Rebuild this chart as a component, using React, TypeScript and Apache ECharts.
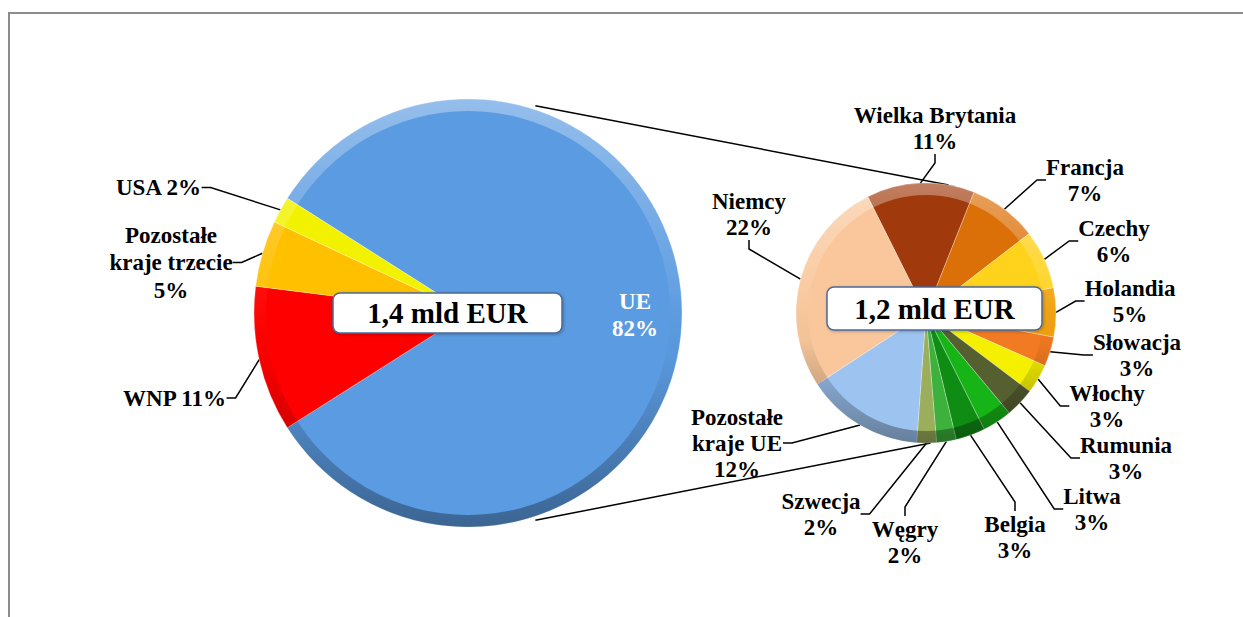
import React, { useEffect, useRef } from "react";
import * as echarts from "echarts";

// ---------- data ----------
const LEFT_NAMES = ["UE", "WNP", "Pozostałe kraje trzecie", "USA"];
const LEFT_VALUES = [82, 11, 5, 2];
const LEFT_LABELS = ["UE\n82%", "WNP 11%", "Pozostałe\nkraje trzecie\n5%", "USA 2%"];
const LEFT_COLORS = ["#5B9BE1", "#FF0000", "#FFC000", "#F2F200"];

const RIGHT_NAMES = [
  "Wielka Brytania", "Francja", "Czechy", "Holandia", "Słowacja", "Włochy",
  "Rumunia", "Litwa", "Belgia", "Węgry", "Szwecja", "Pozostałe kraje UE", "Niemcy",
];
const RIGHT_VALUES = [11, 7, 6, 5, 3, 3, 3, 3, 3, 2, 2, 12, 22];
const RIGHT_LABELS = [
  "Wielka Brytania\n11%", "Francja\n7%", "Czechy\n6%", "Holandia\n5%", "Słowacja\n3%",
  "Włochy\n3%", "Rumunia\n3%", "Litwa\n3%", "Belgia\n3%", "Węgry\n2%", "Szwecja\n2%",
  "Pozostałe\nkraje UE\n12%", "Niemcy\n22%",
];
const RIGHT_COLORS = [
  "#A03A0C", "#DC7008", "#FFD21C", "#F2A20E", "#F27A22", "#F5F000",
  "#555F30", "#16B416", "#0E8C14", "#3CB23C", "#9BAE5C", "#9DC3F0", "#F9C79B",
];

const LEFT_TOTAL = "1,4 mld EUR";
const RIGHT_TOTAL = "1,2 mld EUR";

// ---------- layout ----------
const W = 1243;
const H = 617;
const LP = { cx: 468, cy: 313, r: 214 };
const RP = { cx: 926, cy: 313, r: 130 };
const LEFT_LABEL_POS = [[635, 315], [174.5, 398], [171, 262.5], [158.5, 187.5]];
const RIGHT_LABEL_POS = [
  [935, 128], [1085, 180], [1114, 241], [1130, 301], [1137, 355], [1107, 406],
  [1126, 458], [1092, 509], [1015, 537], [905, 542], [821, 514], [737, 443], [749, 214],
];
const FONT = "'Liberation Serif', 'Times New Roman', serif";

function pt(c: { cx: number; cy: number; r: number }, deg: number, extra = 0) {
  const a = (deg * Math.PI) / 180;
  return [c.cx + (c.r + extra) * Math.cos(a), c.cy - (c.r + extra) * Math.sin(a)];
}

function rimRing(c: { cx: number; cy: number; r: number }) {
  return {
    type: "ring",
    silent: true,
    z: 5,
    shape: { cx: c.cx, cy: c.cy, r: c.r, r0: c.r - 12 },
    style: {
      fill: {
        type: "linear", x: 0, y: 0, x2: 0, y2: 1,
        colorStops: [
          { offset: 0, color: "rgba(255,255,255,0.35)" },
          { offset: 0.45, color: "rgba(255,255,255,0.05)" },
          { offset: 0.6, color: "rgba(0,0,0,0.02)" },
          { offset: 1, color: "rgba(0,0,0,0.35)" },
        ],
      },
    },
  };
}

function totalBox(x: number, y: number, w: number, h: number, text: string) {
  return [
    {
      type: "rect",
      silent: true,
      z: 10,
      shape: { x, y, width: w, height: h, r: 7 },
      style: {
        fill: "#ffffff", stroke: "#4A6A9C", lineWidth: 1.5,
        shadowBlur: 3, shadowColor: "rgba(0,0,0,0.25)", shadowOffsetX: 1, shadowOffsetY: 1,
      },
    },
    {
      type: "text",
      silent: true,
      z: 11,
      x: x + w / 2,
      y: y + h / 2,
      style: {
        text, fill: "#000", font: `bold 29px ${FONT}`,
        align: "center", verticalAlign: "middle",
      },
    },
  ];
}

function pieSeries(
  names: string[], values: number[], labels: string[], colors: string[],
  c: { cx: number; cy: number; r: number }, startAngle: number, pos: number[][],
  white0: boolean, lineHeight: number,
) {
  return {
    type: "pie",
    center: [c.cx, c.cy],
    radius: c.r,
    startAngle,
    clockwise: true,
    avoidLabelOverlap: false,
    silent: true,
    itemStyle: { borderColor: "rgba(255,255,255,0.35)", borderWidth: 0.8 },
    label: {
      show: true,
      position: "outside",
      alignTo: "none",
      fontFamily: FONT,
      fontWeight: "bold",
      fontSize: 23,
      lineHeight,
      color: "#000",
      align: "center",
    },
    labelLine: { show: true, length: 10, length2: 9, lineStyle: { color: "#000", width: 1.5 } },
    labelLayout: (p: any) => {
      const q = pos[p.dataIndex];
      return { x: q[0], y: q[1], align: "center", verticalAlign: "middle" };
    },
    data: names.map((n, i) => ({
      name: n,
      value: values[i],
      itemStyle: { color: colors[i] },
      label: {
        formatter: labels[i],
        ...(white0 && i === 0 ? { color: "#ffffff" } : {}),
      },
      labelLine: white0 && i === 0 ? { show: false } : { show: true },
    })),
  };
}

export default function App() {
  const ref = useRef<HTMLDivElement>(null);
  useEffect(() => {
    if (!ref.current) return;
    const chart = echarts.init(ref.current, undefined, { renderer: "svg" });
    const lt = pt(LP, 72, 4);
    const lb = pt(LP, -72, 4);
    const rt = pt(RP, 80);
    const rb = pt(RP, -88);
    chart.setOption({
      animation: false,
      backgroundColor: "#ffffff",
      series: [
        pieSeries(LEFT_NAMES, LEFT_VALUES, LEFT_LABELS, LEFT_COLORS, LP, 147.6, LEFT_LABEL_POS, true, 27.5),
        pieSeries(RIGHT_NAMES, RIGHT_VALUES, RIGHT_LABELS, RIGHT_COLORS, RP, 116.6, RIGHT_LABEL_POS, false, 26),
      ],
      graphic: [
        {
          type: "rect", silent: true, z: 0,
          shape: { x: 9, y: 13, width: 1260, height: 640 },
          style: { fill: "none", stroke: "#8C8C8C", lineWidth: 2 },
        },
        {
          type: "line", silent: true, z: 0,
          shape: { x1: lt[0], y1: lt[1], x2: rt[0], y2: rt[1] },
          style: { stroke: "#000", lineWidth: 1.5 },
        },
        {
          type: "line", silent: true, z: 0,
          shape: { x1: lb[0], y1: lb[1], x2: rb[0], y2: rb[1] },
          style: { stroke: "#000", lineWidth: 1.5 },
        },
        rimRing(LP),
        rimRing(RP),
        ...totalBox(333, 293, 229, 40, LEFT_TOTAL),
        ...totalBox(827, 287, 215, 43, RIGHT_TOTAL),
      ],
    });
    return () => chart.dispose();
  }, []);
  return (
    <div
      ref={ref}
      style={{ position: "absolute", left: 0, top: 0, width: W, height: H }}
    />
  );
}
